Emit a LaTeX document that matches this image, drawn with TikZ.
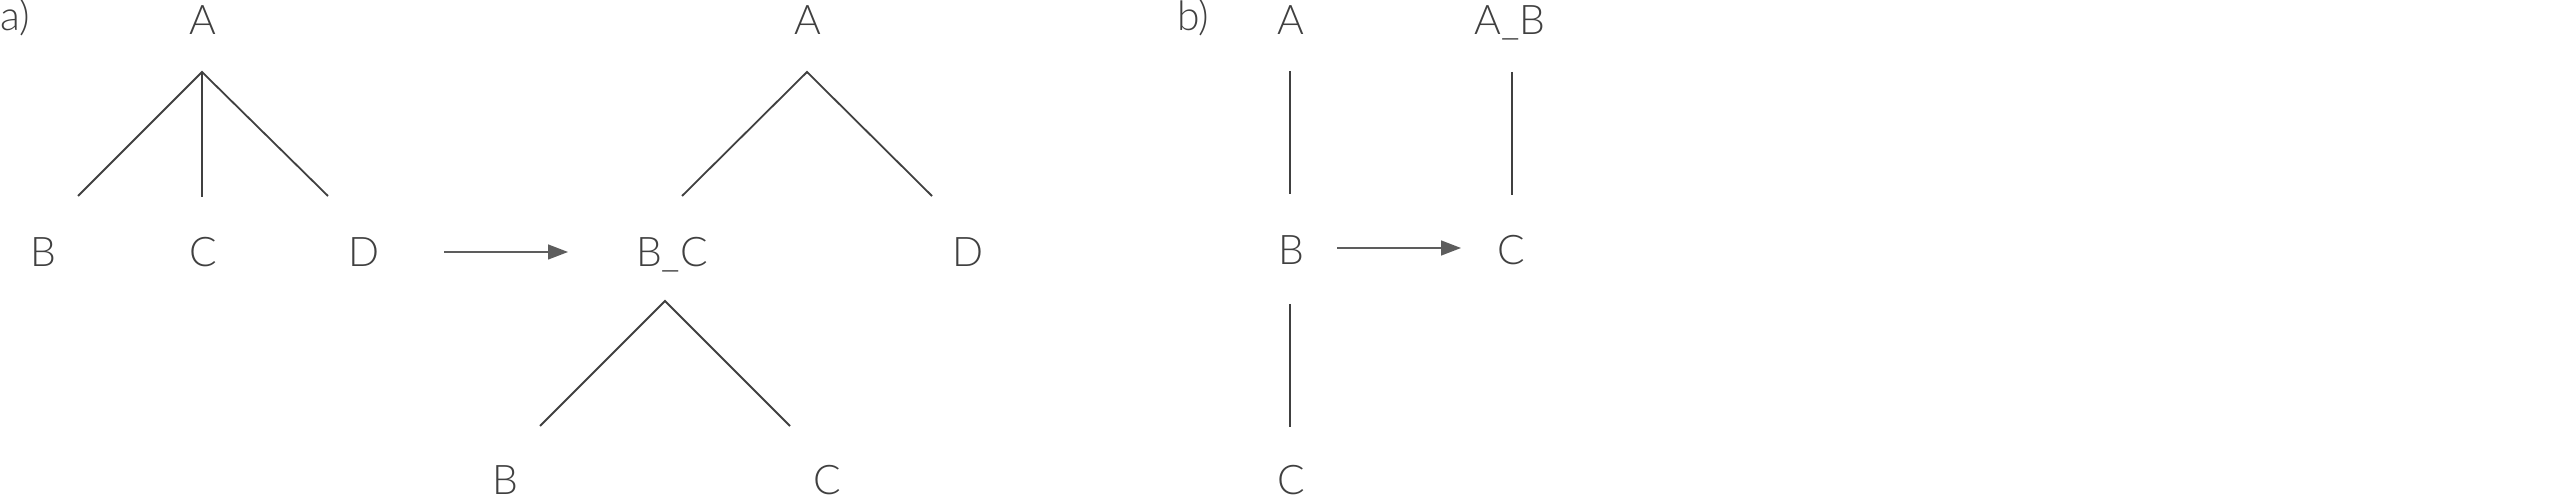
\documentclass[tikz,border=0pt]{standalone}
\usepackage{fontspec}
\setmainfont{Lato}[UprightFont={* Light}]
\usetikzlibrary{arrows.meta}
\definecolor{ink}{HTML}{404040}
\begin{document}
\begin{tikzpicture}[x=1bp,y=-1bp,
  lbl/.style={anchor=base,inner sep=0pt,text=ink,font=\fontsize{41}{41}\selectfont},
  tag/.style={anchor=base west,inner sep=0pt,text=ink,font=\fontsize{41}{41}\selectfont},
  edge/.style={draw=ink,line width=1.8bp},
  flow/.style={draw=ink!85,line width=1.4bp,-{Triangle[length=20bp,width=15bp]}}]
\useasboundingbox (0,0) rectangle (2560,502);
% ---- a) ----
\node[tag] (ta) at (0,31) {a)};
\node[lbl] (a1A) at (203,35) {A};
\node[lbl] (a1B) at (43,267) {B};
\node[lbl] (a1C) at (203,267) {C};
\node[lbl] (a1D) at (364,267) {D};
\coordinate (a1top) at (202,72);
\coordinate (a1bB) at (78,196);
\coordinate (a1bC) at (202,197);
\coordinate (a1bD) at (328,196);
\draw[edge] (a1bB) -- (a1top) -- (a1bD);
\draw[edge] (a1top) -- (a1bC);
% arrow
\coordinate (arA1) at (444,252);
\coordinate (arA2) at (568,252);
\draw[flow] (arA1) -- (arA2);
% right tree
\node[lbl] (a2A) at (808,35) {A};
\node[lbl] (a2BC) at (672,267) {B\_C};
\node[lbl] (a2D) at (968,267) {D};
\node[lbl] (a2B) at (505,494) {B};
\node[lbl] (a2C) at (827,494) {C};
\coordinate (a2top) at (807,72);
\coordinate (a2bBC) at (682,196);
\coordinate (a2bD) at (932,196);
\draw[edge] (a2bBC) -- (a2top) -- (a2bD);
\coordinate (a2mid) at (665,301);
\coordinate (a2bB) at (540,426);
\coordinate (a2bC) at (790,426);
\draw[edge] (a2bB) -- (a2mid) -- (a2bC);
% ---- b) ----
\node[tag] (tb) at (1177,31) {b)};
\node[lbl] (b1A) at (1291,35) {A};
\node[lbl] (b1B) at (1291,265) {B};
\node[lbl] (b1C) at (1291,494) {C};
\node[lbl] (b2AB) at (1510,35) {A\_B};
\node[lbl] (b2C) at (1511,265) {C};
\coordinate (bAt) at (1290,71);
\coordinate (bAb) at (1290,194);
\coordinate (bBt) at (1290,304);
\coordinate (bBb) at (1290,427);
\coordinate (bABt) at (1512,72);
\coordinate (bABb) at (1512,195);
\draw[edge] (bAt) -- (bAb);
\draw[edge] (bBt) -- (bBb);
\draw[edge] (bABt) -- (bABb);
\coordinate (arB1) at (1337,248);
\coordinate (arB2) at (1461,248);
\draw[flow] (arB1) -- (arB2);
\end{tikzpicture}
\end{document}
